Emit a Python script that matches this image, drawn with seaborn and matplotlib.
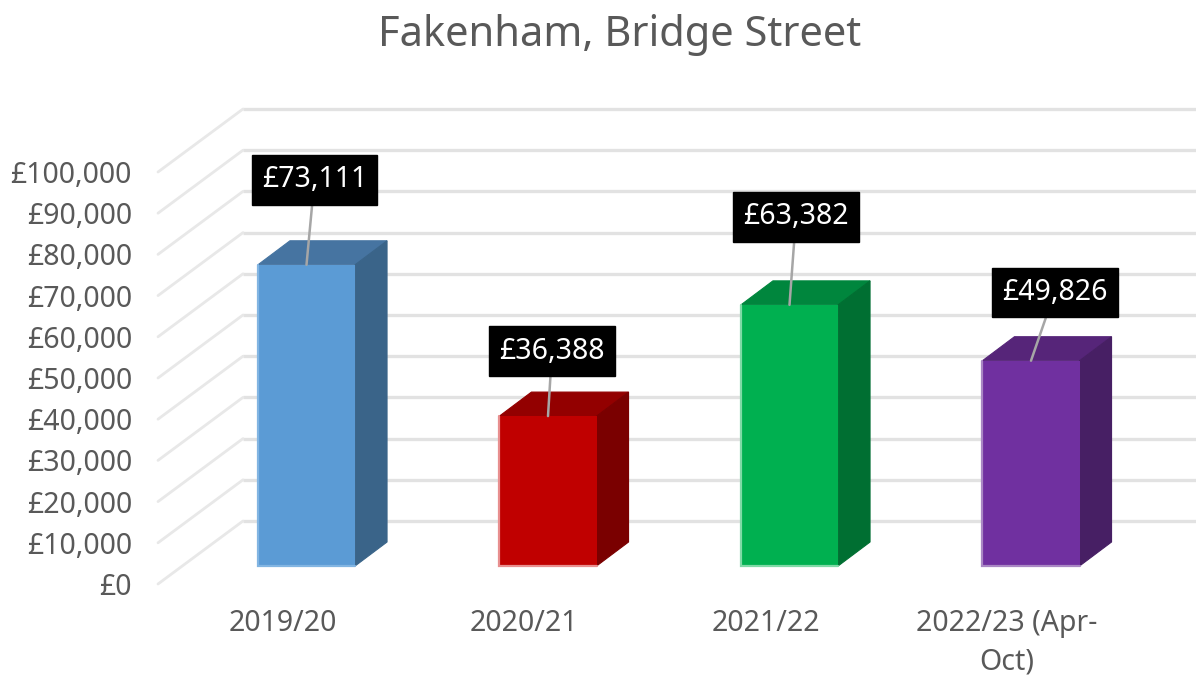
import matplotlib
matplotlib.use("Agg")
import matplotlib.pyplot as plt
import matplotlib.transforms as mtrans
from matplotlib.patches import Polygon
import pandas as pd
import seaborn as sns

# values
categories = ["2019/20", "2020/21", "2021/22", "2022/23 (Apr-\nOct)"]
income = [73111, 36388, 63382, 49826]
value_labels = ["£73,111", "£36,388", "£63,382", "£49,826"]
y_ticks = list(range(0, 100001, 10000))

front_cols = ["#5B9BD5", "#C00000", "#00B050", "#7030A0"]
edge_cols = ["#82B5E2", "#E88F8F", "#7FDAA6", "#A987C4"]
top_cols = ["#4674A1", "#930000", "#00863D", "#562579"]
side_cols = ["#3A6489", "#7A0000", "#006F32", "#471F64"]
label_offsets = [(8, 85), (4, 65), (6.5, 88), (23.5, 68)]

W, H = 1196, 677
DEPTH_X, DEPTH_Y = 32, 24
TEXT = "#595959"
GRID = "#E2E2E2"

sns.set_theme(style="white")
plt.rcParams["font.family"] = ["Noto Sans", "DejaVu Sans"]

fig = plt.figure(figsize=(W / 100, H / 100), dpi=100)
# axes box: left edge = back wall, bottom = bar base, top = 100k on the bar plane
ax = fig.add_axes([243 / W, (H - 566) / H, (W - 243) / W, 412 / H])

df = pd.DataFrame({"period": categories, "income": income})
sns.barplot(data=df, x="period", y="income", hue="period", order=categories,
            palette=dict(zip(categories, front_cols)), legend=False, width=0.402,
            saturation=1, linewidth=0, ax=ax, zorder=3)

# bar centres sit 241.5px apart, first one at x=306.5
ax.set_xlim((243 - 306.5) / 241.5, (W - 306.5) / 241.5)
ax.set_ylim(0, 100000)
sns.despine(ax=ax, left=True, bottom=True)
ax.set_xlabel("")
ax.set_ylabel("")
ax.grid(False)
ax.patch.set_alpha(0)

fig.canvas.draw()
ident = mtrans.IdentityTransform()


def to_px(x, v):
    return ax.transData.transform((x, v))


# back wall gridlines + diagonal floor lines
for v in y_ticks:
    x0, y0 = to_px(ax.get_xlim()[0], v)
    ax.plot([x0, W], [y0 + 45, y0 + 45], color=GRID, lw=2.4, transform=ident,
            clip_on=False, zorder=1, solid_capstyle="butt")
    ax.plot([x0 - 85, x0], [y0 - 18, y0 + 45], color="#E8E8E8", lw=2, transform=ident,
            clip_on=False, zorder=1)

# 3d sides of the bars
for i, bar in enumerate(ax.patches[:len(categories)]):
    x_l, x_r = bar.get_x(), bar.get_x() + bar.get_width()
    # light rim only on the left and bottom of the front face
    ax.plot([x_l, x_l, x_r], [income[i], 0, 0], color=edge_cols[i], lw=1.6,
            clip_on=False, zorder=4, solid_joinstyle="miter")
    px_l, y_b = to_px(x_l, 0)
    px_r, y_t = to_px(x_r, income[i])
    ax.add_patch(Polygon([(px_l, y_t), (px_r, y_t), (px_r + DEPTH_X, y_t + DEPTH_Y),
                          (px_l + DEPTH_X, y_t + DEPTH_Y)], closed=True,
                         facecolor=top_cols[i], edgecolor=top_cols[i], lw=0.8,
                         transform=ident, clip_on=False, zorder=2))
    ax.add_patch(Polygon([(px_r, y_b), (px_r + DEPTH_X, y_b + DEPTH_Y),
                          (px_r + DEPTH_X, y_t + DEPTH_Y), (px_r, y_t)], closed=True,
                         facecolor=side_cols[i], edgecolor=side_cols[i], lw=0.8,
                         transform=ident, clip_on=False, zorder=2))

# data labels with leader lines
for i, txt in enumerate(value_labels):
    ax.annotate(txt, xy=(i, income[i]), xytext=label_offsets[i],
                textcoords="offset pixels", ha="center", va="center",
                color="white", fontsize=20.5, zorder=6, annotation_clip=False,
                bbox=dict(boxstyle="square,pad=0.36", fc="black", ec="black"),
                arrowprops=dict(arrowstyle="-", color="#A6A6A6", lw=1.8,
                                shrinkA=0, shrinkB=0))

# tick labels live on the front edge of the floor
ax.set_yticks(y_ticks)
ax.set_yticklabels([f"£{v:,}" for v in y_ticks])
ax.tick_params(axis="y", length=0, pad=80, labelsize=20.5, labelcolor=TEXT)
ax.tick_params(axis="x", length=0, pad=31, labelsize=20.5, labelcolor=TEXT)
y_shift = mtrans.Affine2D().translate(0, -18)
x_shift = mtrans.Affine2D().translate(-24, 0)
for lab in ax.get_yticklabels():
    lab.set_transform(lab.get_transform() + y_shift)
for lab in ax.get_xticklabels():
    lab.set_transform(lab.get_transform() + x_shift)
    lab.set_linespacing(1.45)

fig.text(620 / W, 1 - 35 / H, "Fakenham, Bridge Street", ha="center", va="center",
         fontsize=30, color=TEXT)

fig.savefig("out.png", dpi=100, facecolor="white")
